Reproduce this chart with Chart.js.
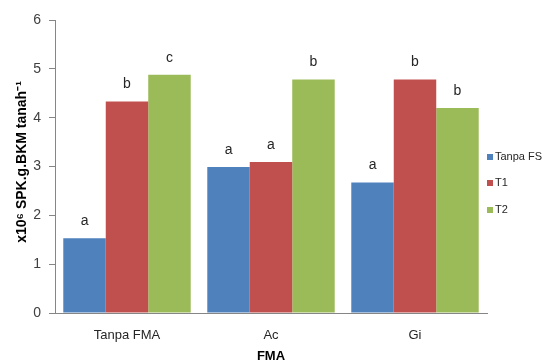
<!DOCTYPE html>
<html>
<head>
<meta charset="utf-8">
<script src="https://cdn.jsdelivr.net/npm/chart.js@4/dist/chart.umd.min.js"></script>
<style>
  html, body { margin: 0; padding: 0; background: #fff; }
  #wrap { width: 543px; height: 361px; }
</style>
</head>
<body>
<div id="wrap"><canvas id="myChart"></canvas></div>
<script>
const categories = ['Tanpa FMA', 'Ac', 'Gi'];
const seriesNames = ['Tanpa FS', 'T1', 'T2'];
const tanpaFS = [1.53, 2.99, 2.67];
const t1 = [4.33, 3.09, 4.78];
const t2 = [4.88, 4.78, 4.20];
const lettersTanpaFS = ['a', 'a', 'a'];
const lettersT1 = ['b', 'a', 'b'];
const lettersT2 = ['c', 'b', 'b'];
const yTicks = [0, 1, 2, 3, 4, 5, 6];

const fontName = "'Liberation Sans', Arial, sans-serif";
const colors = ['#4F81BD', '#C0504D', '#9BBB59'];

// letters over each bar + axis titles + legend
const extras = {
    id: 'extras',
    afterDatasetsDraw(chart) {
        const ctx = chart.ctx;
        const letters = [lettersTanpaFS, lettersT1, lettersT2];
        ctx.save();
        ctx.fillStyle = '#262626';
        ctx.font = '14px ' + fontName;
        ctx.textAlign = 'center';
        ctx.textBaseline = 'middle';
        chart.data.datasets.forEach((ds, i) => {
            chart.getDatasetMeta(i).data.forEach((bar, j) => {
                ctx.fillText(letters[i][j], bar.x, bar.y - 17);
            });
        });

        // y title
        ctx.font = 'bold 14px ' + fontName;
        ctx.fillStyle = '#000';
        ctx.translate(22, 162);
        ctx.rotate(-Math.PI / 2);
        ctx.fillText('x10\u2076 SPK.g.BKM tanah\u207B\u00B9', 0, 0);
        ctx.restore();

        // x title
        ctx.save();
        ctx.font = 'bold 13px ' + fontName;
        ctx.fillStyle = '#000';
        ctx.textAlign = 'center';
        ctx.textBaseline = 'middle';
        ctx.fillText('FMA', (chart.chartArea.left + chart.chartArea.right) / 2, 356);

        // legend
        const ys = [157, 183, 210];
        ctx.font = '11px ' + fontName;
        ctx.textAlign = 'left';
        chart.data.datasets.forEach((ds, i) => {
            ctx.fillStyle = ds.backgroundColor;
            ctx.fillRect(487, ys[i] - 3, 6, 6);
            ctx.fillStyle = '#262626';
            ctx.fillText(ds.label, 495, ys[i]);
        });
        ctx.restore();
    }
};

const ctx = document.getElementById('myChart').getContext('2d');
const myChart = new Chart(ctx, {
    type: 'bar',
    data: {
        labels: categories,
        datasets: [{
            label: seriesNames[0],
            data: tanpaFS,
            backgroundColor: colors[0]
        }, {
            label: seriesNames[1],
            data: t1,
            backgroundColor: colors[1]
        }, {
            label: seriesNames[2],
            data: t2,
            backgroundColor: colors[2]
        }]
    },
    options: {
        responsive: true,
        maintainAspectRatio: false,
        animation: false,
        layout: {
            padding: {top: 20, right: 56, left: 0, bottom: 0}
        },
        datasets: {
            bar: {
                categoryPercentage: 0.885,
                barPercentage: 1.0
            }
        },
        plugins: {
            legend: {display: false},
            tooltip: {enabled: false}
        },
        scales: {
            x: {
                grid: {display: false, drawTicks: false},
                border: {color: '#868686', width: 1},
                ticks: {
                    color: '#262626',
                    font: {family: fontName, size: 13},
                    padding: 15
                },
                afterFit: function(scale) { scale.height = 48; }
            },
            y: {
                min: 0,
                max: 6,
                afterBuildTicks: function(scale) {
                    scale.ticks = yTicks.map(v => ({value: v}));
                },
                grid: {
                    display: true,
                    drawOnChartArea: false,
                    drawTicks: true,
                    tickLength: 6,
                    color: '#868686'
                },
                border: {color: '#868686', width: 1},
                ticks: {
                    color: '#404040',
                    font: {family: fontName, size: 14},
                    padding: 8
                },
                afterFit: function(scale) { scale.width = 55; }
            }
        }
    },
    plugins: [extras]
});
</script>
</body>
</html>
